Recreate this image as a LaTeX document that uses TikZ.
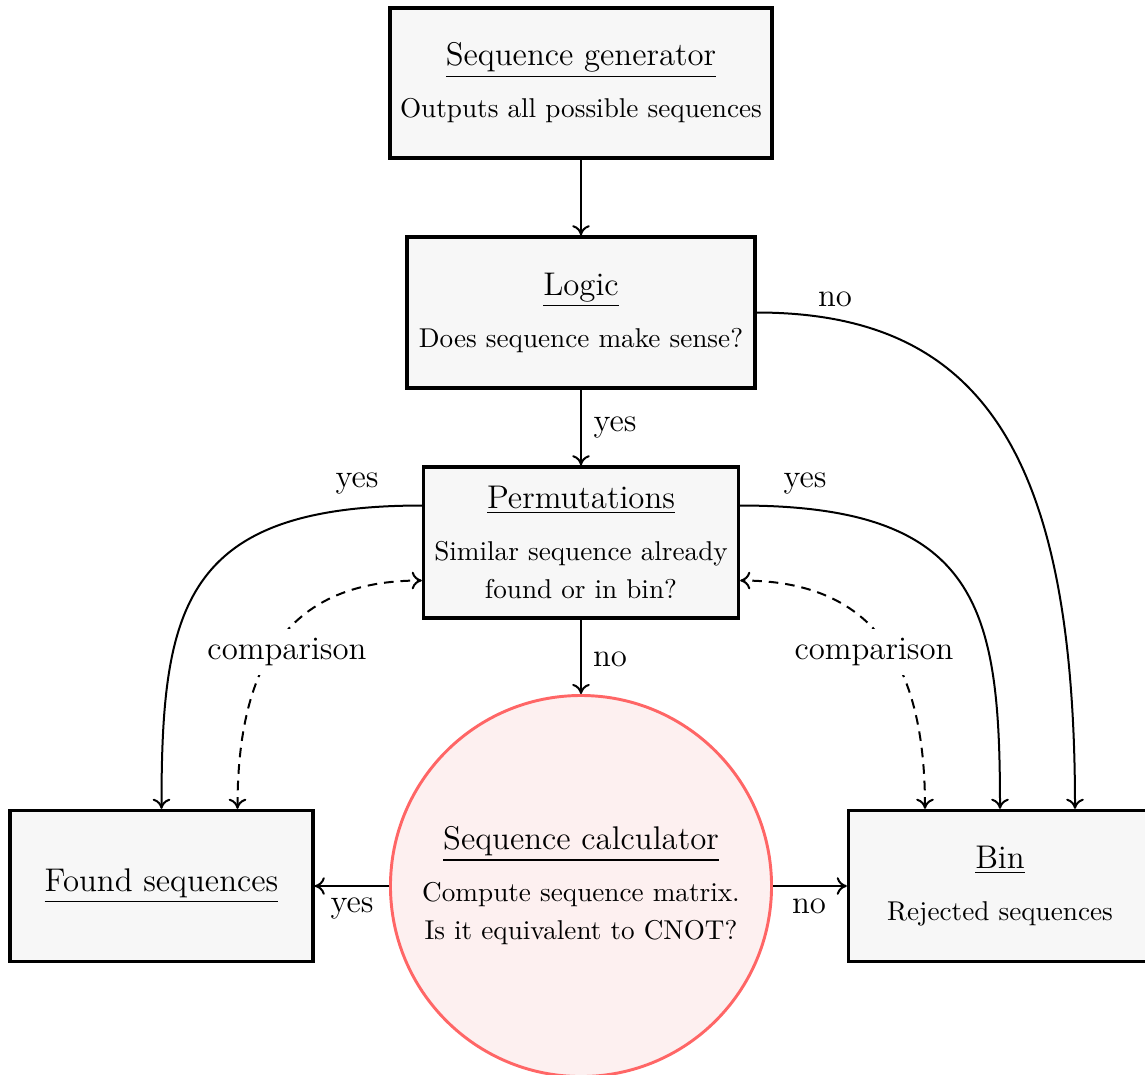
\documentclass[tikz,border=0pt]{standalone}
\usetikzlibrary{arrows.meta,calc}
\definecolor{boxfill}{RGB}{247,247,247}
\definecolor{calcfill}{RGB}{253,240,240}
\definecolor{calcdraw}{RGB}{255,102,102}
\newcommand\ttlfont{\fontsize{12.3}{14.8}\selectfont}
\newcommand\bodyfont{\fontsize{10.2}{14.25}\selectfont}
\newcommand\boxtitle[1]{{\ttlfont\underline{#1}}}
\begin{document}
\begin{tikzpicture}[x=0.375pt,y=-0.375pt,
  box/.style={draw, line width=1.3pt, fill=boxfill, align=center, font=\bodyfont, inner sep=0pt},
  calcnode/.style={circle, draw=calcdraw, line width=1.1pt, fill=calcfill, align=center, font=\bodyfont, minimum size=142.9pt, inner sep=0pt},
  tip/.tip={To[length=3.8pt,width=6.6pt]},
  conn/.style={line width=0.75pt, -tip},
  cmp/.style={line width=0.75pt, dash pattern=on 3.6pt off 2.6pt, tip-tip},
  lbl/.style={font=\ttlfont, inner sep=0pt, anchor=base},
  cmplbl/.style={font=\ttlfont, fill=white, inner sep=3.5pt}
]
\useasboundingbox (0,0) rectangle (1145,1074);

\node[box, minimum width=143.25pt, minimum height=56.25pt] (gen) at (581,83)
  {\boxtitle{Sequence generator}\\[5.25pt] Outputs all possible sequences};
\node[box, minimum width=130.5pt, minimum height=56.6pt] (logic) at (581,312.5)
  {\boxtitle{Logic}\\[5.25pt] Does sequence make sense?};
\node[box, minimum width=118.1pt, minimum height=56.6pt] (perm) at (581,542.5)
  {\boxtitle{Permutations}\\[5.25pt] Similar sequence already\\ found or in bin?};
\node[box, minimum width=113.6pt, minimum height=56.6pt] (found) at (161.5,886)
  {\boxtitle{Found sequences}};
\node[box, minimum width=113.6pt, minimum height=56.6pt] (bin) at (1000,886)
  {\boxtitle{Bin}\\[5.25pt] Rejected sequences};
\node[calcnode] (calc) at (581,886)
  {\boxtitle{Sequence calculator}\\[5.25pt] Compute sequence matrix.\\ Is it equivalent to CNOT?};

% straight connectors
\draw[conn] (gen.south) -- (logic.north);
\draw[conn] (logic.south) -- (perm.north);
\draw[conn] (perm.south) -- (calc.north);
\draw[conn] (calc.west) -- (found.east);
\draw[conn] (calc.east) -- (bin.west);

% curved connectors
\draw[conn] (logic.east) .. controls +(225,0) and +(0,-355) .. ($(bin.north)+(75,0)$);
\draw[conn] ($(perm.west)+(0,-37)$) .. controls +(-240,0) and +(0,-200) .. (found.north);
\draw[conn] ($(perm.east)+(0,-37)$) .. controls +(240,0) and +(0,-200) .. (bin.north);

% comparison (dashed)
\draw[cmp] ($(found.north)+(76,0)$) .. controls +(0,-150) and +(-130,0) .. ($(perm.west)+(0,38)$);
\draw[cmp] ($(bin.north)+(-75,0)$) .. controls +(0,-150) and +(130,0) .. ($(perm.east)+(0,38)$);

\node[cmplbl] (cmpL) at (287,652) {comparison};
\node[cmplbl] (cmpR) at (874,652) {comparison};

% labels
\node[lbl] (lyes1) at (615,431) {yes};
\node[lbl] (lno1) at (835,306.5) {no};
\node[lbl] (lyes2) at (357,487) {yes};
\node[lbl] (lyes3) at (805,487) {yes};
\node[lbl] (lno2) at (610,666) {no};
\node[lbl] (lyes4) at (352,912) {yes};
\node[lbl] (lno3) at (809,913) {no};
\end{tikzpicture}
\end{document}
